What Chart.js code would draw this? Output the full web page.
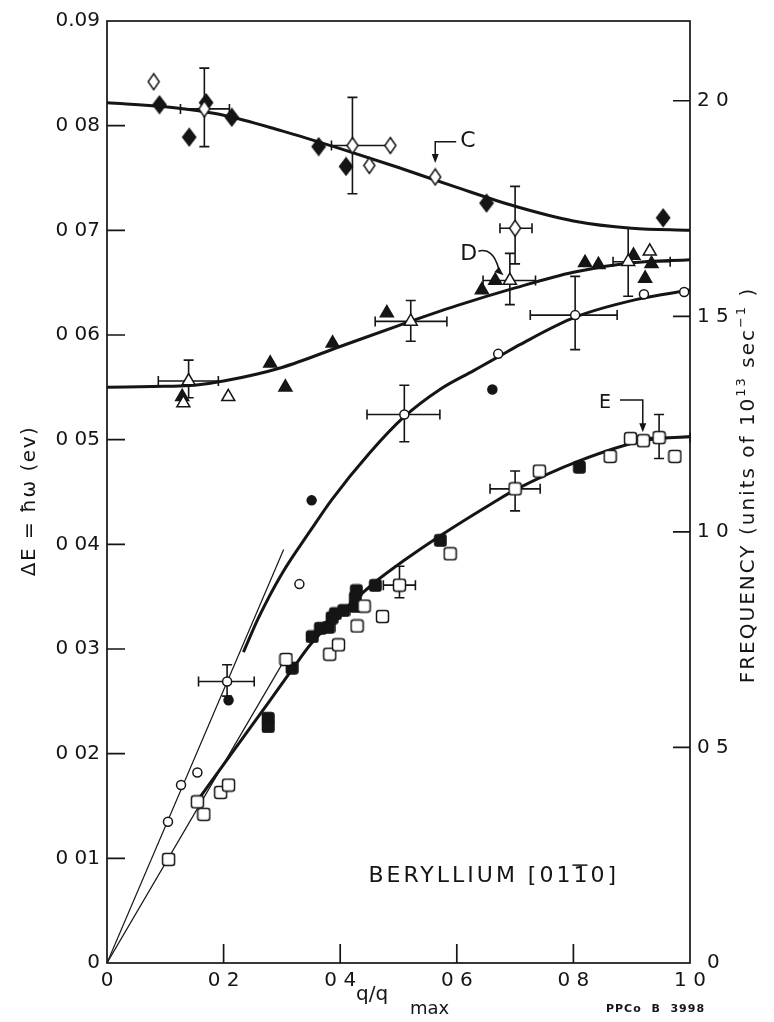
<!DOCTYPE html>
<html>
<head>
<meta charset="utf-8">
<script src="https://cdn.jsdelivr.net/npm/chart.js@4/dist/chart.umd.min.js"></script>
<style>
  html, body { margin: 0; padding: 0; background: #fff; }
  #wrap { width: 774px; height: 1022px; position: relative; }
</style>
</head>
<body>
<div id="wrap"><canvas id="c" width="774" height="1022"></canvas></div>
<script>
// ---- axes ----
const xTicks = [0, 0.2, 0.4, 0.6, 0.8, 1.0];
const xTickLabels = ['0', '0 2', '0 4', '0 6', '0 8', '1 0'];
const eTicks = [0, 0.01, 0.02, 0.03, 0.04, 0.05, 0.06, 0.07, 0.08, 0.09];
const eTickLabels = ['0', '0 01', '0 02', '0 03', '0 04', '0 05', '0 06', '0 07', '0 08', '0.09'];
const fTicks = [0.5, 1.0, 1.5, 2.0];
const fTickLabels = ['0 5', '1 0', '1 5', '2 0'];
const FREQ_MAX = 2.185;   // frequency (10^13 sec^-1) at the top of the energy axis

// ---- branch C (diamonds) ----
const cSolidQ = [0.090, 0.141, 0.170, 0.214, 0.363, 0.410, 0.651, 0.954];
const cSolidE = [0.0820, 0.0789, 0.0822, 0.0808, 0.0780, 0.0761, 0.0726, 0.0712];
const cOpenQ = [0.080, 0.167, 0.421, 0.486, 0.450, 0.563, 0.700];
const cOpenE = [0.0842, 0.0816, 0.0781, 0.0781, 0.0762, 0.0751, 0.0702];
const cCurveQ = [0, 0.1, 0.2, 0.3, 0.4, 0.5, 0.6, 0.7, 0.8, 0.9, 1.0];
const cCurveE = [0.0822, 0.0818, 0.0810, 0.0795, 0.0778, 0.0760, 0.0741, 0.0723, 0.0709, 0.0702, 0.0700];

// ---- branch D (triangles) ----
const dSolidQ = [0.129, 0.280, 0.306, 0.387, 0.480, 0.643, 0.666, 0.820, 0.843, 0.903, 0.923, 0.934];
const dSolidE = [0.0541, 0.0573, 0.0550, 0.0592, 0.0621, 0.0643, 0.0652, 0.0669, 0.0667, 0.0676, 0.0654, 0.0668];
const dOpenQ = [0.140, 0.131, 0.208, 0.521, 0.691, 0.894, 0.931];
const dOpenE = [0.0556, 0.0535, 0.0541, 0.0613, 0.0652, 0.0670, 0.0680];
const dCurveQ = [0, 0.1, 0.15, 0.2, 0.3, 0.4, 0.5, 0.6, 0.7, 0.8, 0.9, 1.0];
const dCurveE = [0.0550, 0.0551, 0.0552, 0.0556, 0.0569, 0.0589, 0.0609, 0.0628, 0.0645, 0.0660, 0.0669, 0.0672];

// ---- circles ----
const oSolidQ = [0.2085, 0.351, 0.661];
const oSolidE = [0.0251, 0.0442, 0.0548];
const oOpenQ = [0.1046, 0.127, 0.155, 0.206, 0.330, 0.510, 0.671, 0.803, 0.921, 0.990];
const oOpenE = [0.0135, 0.0170, 0.0182, 0.0269, 0.0362, 0.0524, 0.0582, 0.0619, 0.0639, 0.0641];
const oCurveQ = [0.234, 0.26, 0.30, 0.35, 0.386, 0.45, 0.508, 0.571, 0.629, 0.674, 0.709, 0.803, 0.909, 1.0];
const oCurveE = [0.0297, 0.0330, 0.0372, 0.0414, 0.0443, 0.0487, 0.0521, 0.0548, 0.0566, 0.0580, 0.0591, 0.0617, 0.0634, 0.0643];
const oSlopeQ = [0, 0.303];
const oSlopeE = [0, 0.0395];

// ---- branch E (squares) ----
const sSolidQ = [0.276, 0.276, 0.317, 0.3515, 0.3657, 0.380, 0.3857, 0.3914, 0.4057, 0.4257, 0.4257, 0.4274, 0.460, 0.5714, 0.810];
const sSolidE = [0.0234, 0.0226, 0.0282, 0.0312, 0.0320, 0.0321, 0.0330, 0.0334, 0.0337, 0.0341, 0.0349, 0.0356, 0.0361, 0.0404, 0.0474];
const sOpenQ = [0.1056, 0.155, 0.166, 0.195, 0.2085, 0.307, 0.382, 0.397, 0.429, 0.441, 0.4725, 0.5017, 0.5886, 0.700, 0.7416, 0.863, 0.898, 0.920, 0.947, 0.974];
const sOpenE = [0.0099, 0.0154, 0.0142, 0.0163, 0.0170, 0.0290, 0.0295, 0.0304, 0.0322, 0.0341, 0.0331, 0.0361, 0.0391, 0.0453, 0.0470, 0.0484, 0.0501, 0.0499, 0.0502, 0.0484];
const sCurveQ = [0.155, 0.229, 0.276, 0.317, 0.35, 0.40, 0.46, 0.508, 0.571, 0.663, 0.70, 0.811, 0.92, 1.0];
const sCurveE = [0.0155, 0.0212, 0.0248, 0.0280, 0.0305, 0.0334, 0.0364, 0.0384, 0.0408, 0.0440, 0.0452, 0.0480, 0.0499, 0.0503];
const sSlopeQ = [0, 0.307];
const sSlopeE = [0, 0.0292];

// ---- error bars: [q, E, qLow, qHigh, eLow, eHigh] ----
const errorBars = [
  [0.167, 0.0816, 0.126, 0.210, 0.0780, 0.0855],
  [0.421, 0.0781, 0.385, 0.486, 0.0735, 0.0827],
  [0.700, 0.0702, 0.674, 0.729, 0.0668, 0.0742],
  [0.140, 0.0556, 0.088, 0.191, 0.0540, 0.0576],
  [0.521, 0.0613, 0.460, 0.583, 0.0594, 0.0633],
  [0.691, 0.0652, 0.645, 0.735, 0.0629, 0.0678],
  [0.894, 0.0670, 0.868, 0.966, 0.0637, 0.0702],
  [0.206, 0.0269, 0.157, 0.2525, 0.0255, 0.0285],
  [0.510, 0.0524, 0.446, 0.571, 0.0498, 0.0552],
  [0.803, 0.0619, 0.726, 0.875, 0.0586, 0.0656],
  [0.5017, 0.0361, 0.474, 0.529, 0.0349, 0.0379],
  [0.700, 0.0453, 0.657, 0.743, 0.0432, 0.0470],
  [0.947, 0.0502, 0.900, 1.0, 0.0482, 0.0524]
];

const INK = '#151515';
const FONT = 'DejaVu Sans';

function pts(qs, es) { return qs.map((q, i) => ({ x: q, y: es[i] })); }
function tickText(values, labels, v) {
  const i = values.findIndex(t => Math.abs(t - v) < 1e-9);
  return i < 0 ? '' : labels[i];
}

// small canvas glyphs used as point styles
function glyph(w, h, filled, path) {
  const c = document.createElement('canvas');
  c.width = w + 3; c.height = h + 3;
  const g = c.getContext('2d');
  g.translate(1.5, 1.5);
  g.beginPath();
  path(g, w, h);
  g.closePath();
  g.fillStyle = filled ? INK : '#fff'; g.fill();
  g.lineWidth = 1.5; g.strokeStyle = INK; g.stroke();
  return c;
}
function diamond(w, h, filled) {
  return glyph(w, h, filled, (g, W, H) => {
    g.moveTo(W / 2, 0); g.lineTo(W, H / 2); g.lineTo(W / 2, H); g.lineTo(0, H / 2);
  });
}
function square(s, filled) {
  return glyph(s, s, filled, (g, W, H) => { g.roundRect(0, 0, W, H, 2.5); });
}

function markers(qs, es, style, radius, filled) {
  return {
    data: pts(qs, es), showLine: false, pointStyle: style, pointRadius: radius,
    pointBackgroundColor: filled ? INK : '#fff', pointBorderColor: INK,
    pointBorderWidth: 1.5, order: 0
  };
}
function curve(qs, es, width) {
  return {
    data: pts(qs, es), showLine: true, pointRadius: 0, borderColor: INK,
    borderWidth: width, cubicInterpolationMode: 'monotone', fill: false, order: 2
  };
}

// text made of runs [text, size, rise], centred on (cx, cy), rotated by rot
function drawRuns(ctx, parts, cx, cy, rot, spacing) {
  ctx.save();
  ctx.translate(cx, cy); ctx.rotate(rot);
  ctx.letterSpacing = spacing + 'px';
  ctx.textBaseline = 'middle'; ctx.textAlign = 'left'; ctx.fillStyle = INK;
  const widths = parts.map(p => { ctx.font = p[1] + 'px "' + FONT + '"'; return ctx.measureText(p[0]).width; });
  let x = -widths.reduce((a, b) => a + b, 0) / 2;
  parts.forEach((p, i) => {
    ctx.font = p[1] + 'px "' + FONT + '"';
    ctx.fillText(p[0], x, -p[2]);
    x += widths[i];
  });
  ctx.restore();
}

function arrowHead(ctx, x, y, dx, dy) {
  const len = Math.hypot(dx, dy), ux = dx / len, uy = dy / len;
  ctx.beginPath();
  ctx.moveTo(x, y);
  ctx.lineTo(x - ux * 9 - uy * 3.5, y - uy * 9 + ux * 3.5);
  ctx.lineTo(x - ux * 9 + uy * 3.5, y - uy * 9 - ux * 3.5);
  ctx.closePath(); ctx.fill();
}

const errorBarPlugin = {
  id: 'errorBars',
  beforeDatasetsDraw(chart) {
    const { ctx, scales: { x, y } } = chart;
    ctx.save();
    ctx.strokeStyle = INK; ctx.lineWidth = 1.6;
    const cap = 5;
    errorBars.forEach(([q, e, q0, q1, e0, e1]) => {
      const px = x.getPixelForValue(q), py = y.getPixelForValue(e);
      const xa = x.getPixelForValue(q0), xb = x.getPixelForValue(q1);
      const ya = y.getPixelForValue(e0), yb = y.getPixelForValue(e1);
      ctx.beginPath();
      ctx.moveTo(xa, py); ctx.lineTo(xb, py);
      ctx.moveTo(xa, py - cap); ctx.lineTo(xa, py + cap);
      ctx.moveTo(xb, py - cap); ctx.lineTo(xb, py + cap);
      ctx.moveTo(px, ya); ctx.lineTo(px, yb);
      ctx.moveTo(px - cap, ya); ctx.lineTo(px + cap, ya);
      ctx.moveTo(px - cap, yb); ctx.lineTo(px + cap, yb);
      ctx.stroke();
    });
    ctx.restore();
  }
};

const framePlugin = {
  id: 'frame',
  afterDraw(chart) {
    const { ctx, chartArea: a, scales: { x, y, f } } = chart;
    ctx.save();
    ctx.strokeStyle = INK; ctx.fillStyle = INK; ctx.lineWidth = 1.7;
    ctx.strokeRect(a.left, a.top, a.right - a.left, a.bottom - a.top);
    ctx.beginPath();
    eTicks.slice(1, -1).forEach(v => {
      const py = y.getPixelForValue(v);
      ctx.moveTo(a.left, py); ctx.lineTo(a.left + 18, py);
    });
    xTicks.slice(1, -1).forEach(v => {
      const px = x.getPixelForValue(v);
      ctx.moveTo(px, a.bottom); ctx.lineTo(px, a.bottom - 19);
    });
    fTicks.forEach(v => {
      const py = f.getPixelForValue(v);
      ctx.moveTo(a.right, py); ctx.lineTo(a.right - 17, py);
    });
    ctx.stroke();

    // zero of the frequency axis
    ctx.font = '20px "' + FONT + '"';
    ctx.textBaseline = 'middle'; ctx.textAlign = 'left';
    ctx.fillText('0', a.right + 17, f.getPixelForValue(0));

    // branch labels with arrows
    ctx.lineWidth = 1.5;
    const X = v => x.getPixelForValue(v), Y = v => y.getPixelForValue(v);
    // C
    ctx.beginPath();
    ctx.moveTo(X(0.599), Y(0.07847)); ctx.lineTo(X(0.563), Y(0.07847)); ctx.lineTo(X(0.563), Y(0.0770));
    ctx.stroke();
    arrowHead(ctx, X(0.563), Y(0.07643), 0, 1);
    ctx.font = '22px "' + FONT + '"';
    ctx.fillText('C', X(0.606), Y(0.0785));
    // D
    ctx.beginPath();
    ctx.moveTo(X(0.637), Y(0.0680));
    ctx.quadraticCurveTo(X(0.662), Y(0.0684), X(0.672), Y(0.0663));
    ctx.stroke();
    arrowHead(ctx, X(0.680), Y(0.0657), 1, 0.9);
    ctx.fillText('D', X(0.606), Y(0.0677));
    // E
    ctx.beginPath();
    ctx.moveTo(X(0.880), Y(0.0538)); ctx.lineTo(X(0.919), Y(0.0538)); ctx.lineTo(X(0.919), Y(0.0514));
    ctx.stroke();
    arrowHead(ctx, X(0.919), Y(0.0507), 0, 1);
    ctx.font = '19px "' + FONT + '"';
    ctx.fillText('E', X(0.844), Y(0.0535));

    // specimen label, with the bar over the second 1 of [01-10]
    ctx.font = '22px "' + FONT + '"';
    ctx.letterSpacing = '3px';
    const lx = X(0.4485), ly = Y(0.0083);
    const head = 'BERYLLIUM [01';
    ctx.fillText(head + '1' + '0]', lx, ly);
    const w0 = ctx.measureText(head).width, w1 = ctx.measureText('1').width;
    ctx.beginPath();
    ctx.moveTo(lx + w0 - 1, ly - 11); ctx.lineTo(lx + w0 + w1 - 3, ly - 11);
    ctx.lineWidth = 1.5; ctx.stroke();
    ctx.letterSpacing = '0px';

    // drawing number
    ctx.font = 'bold 11px "' + FONT + '"';
    ctx.letterSpacing = '1px';
    ctx.fillText('PPCo  B  3998', 606, 1009);
    ctx.letterSpacing = '0px';
    ctx.restore();

    // axis titles
    drawRuns(ctx, [['\u0394E = \u0127\u03c9 (ev)', 20, 0]], 30, 501, -Math.PI / 2, 1.5);
    drawRuns(ctx, [['FREQUENCY (units of 10', 20, 0], ['13', 13, 7], [' sec', 20, 0], ['\u2212', 13, 7], ['1', 13, 7], [' )', 20, 0]],
      749, 485, -Math.PI / 2, 2);
    ctx.save();
    ctx.fillStyle = INK; ctx.textBaseline = 'alphabetic'; ctx.textAlign = 'left';
    ctx.font = '20px "' + FONT + '"';
    ctx.fillText('q/q', 356, 1000);
    ctx.font = '18px "' + FONT + '"';
    ctx.fillText('max', 410, 1014);
    ctx.restore();
  }
};

const tickFont = { family: FONT, size: 20 };

new Chart(document.getElementById('c'), {
  type: 'scatter',
  data: {
    datasets: [
      markers(cOpenQ, cOpenE, diamond(11, 16, false), 8, false),
      markers(cSolidQ, cSolidE, diamond(13, 17, true), 8, true),
      markers(dOpenQ, dOpenE, 'triangle', 7.5, false),
      markers(dSolidQ, dSolidE, 'triangle', 7.5, true),
      markers(oOpenQ, oOpenE, 'circle', 4.5, false),
      markers(oSolidQ, oSolidE, 'circle', 4.5, true),
      markers(sOpenQ, sOpenE, square(12, false), 8, false),
      markers(sSolidQ, sSolidE, square(11.5, true), 8, true),
      curve(cCurveQ, cCurveE, 3),
      curve(dCurveQ, dCurveE, 3),
      curve(oCurveQ, oCurveE, 3),
      curve(sCurveQ, sCurveE, 3),
      curve(oSlopeQ, oSlopeE, 1.2),
      curve(sSlopeQ, sSlopeE, 1.2)
    ]
  },
  options: {
    responsive: false,
    animation: false,
    devicePixelRatio: 1,
    layout: { padding: { top: 21, left: 0, right: 0, bottom: 0 } },
    plugins: { legend: { display: false }, tooltip: { enabled: false } },
    scales: {
      x: {
        type: 'linear', position: 'bottom', min: 0, max: 1,
        afterBuildTicks: s => { s.ticks = xTicks.map(v => ({ value: v })); },
        afterFit: s => { s.height = 59; },
        grid: { display: false, drawTicks: false }, border: { display: false },
        ticks: { padding: 6, color: INK, font: tickFont, maxRotation: 0, autoSkip: false,
                 callback: v => tickText(xTicks, xTickLabels, v) }
      },
      y: {
        type: 'linear', position: 'left', min: 0, max: 0.09,
        afterBuildTicks: s => { s.ticks = eTicks.map(v => ({ value: v })); },
        afterFit: s => { s.width = 107; },
        grid: { display: false, drawTicks: false }, border: { display: false },
        ticks: { padding: 7, color: INK, font: tickFont, autoSkip: false,
                 callback: v => tickText(eTicks, eTickLabels, v) }
      },
      f: {
        type: 'linear', position: 'right', min: 0, max: FREQ_MAX, display: true,
        afterBuildTicks: s => { s.ticks = fTicks.map(v => ({ value: v })); },
        afterFit: s => { s.width = 84; },
        grid: { display: false, drawTicks: false }, border: { display: false },
        ticks: { padding: 7, color: INK, font: tickFont, autoSkip: false,
                 callback: v => tickText(fTicks, fTickLabels, v) }
      }
    }
  },
  plugins: [errorBarPlugin, framePlugin]
});
</script>
</body>
</html>
